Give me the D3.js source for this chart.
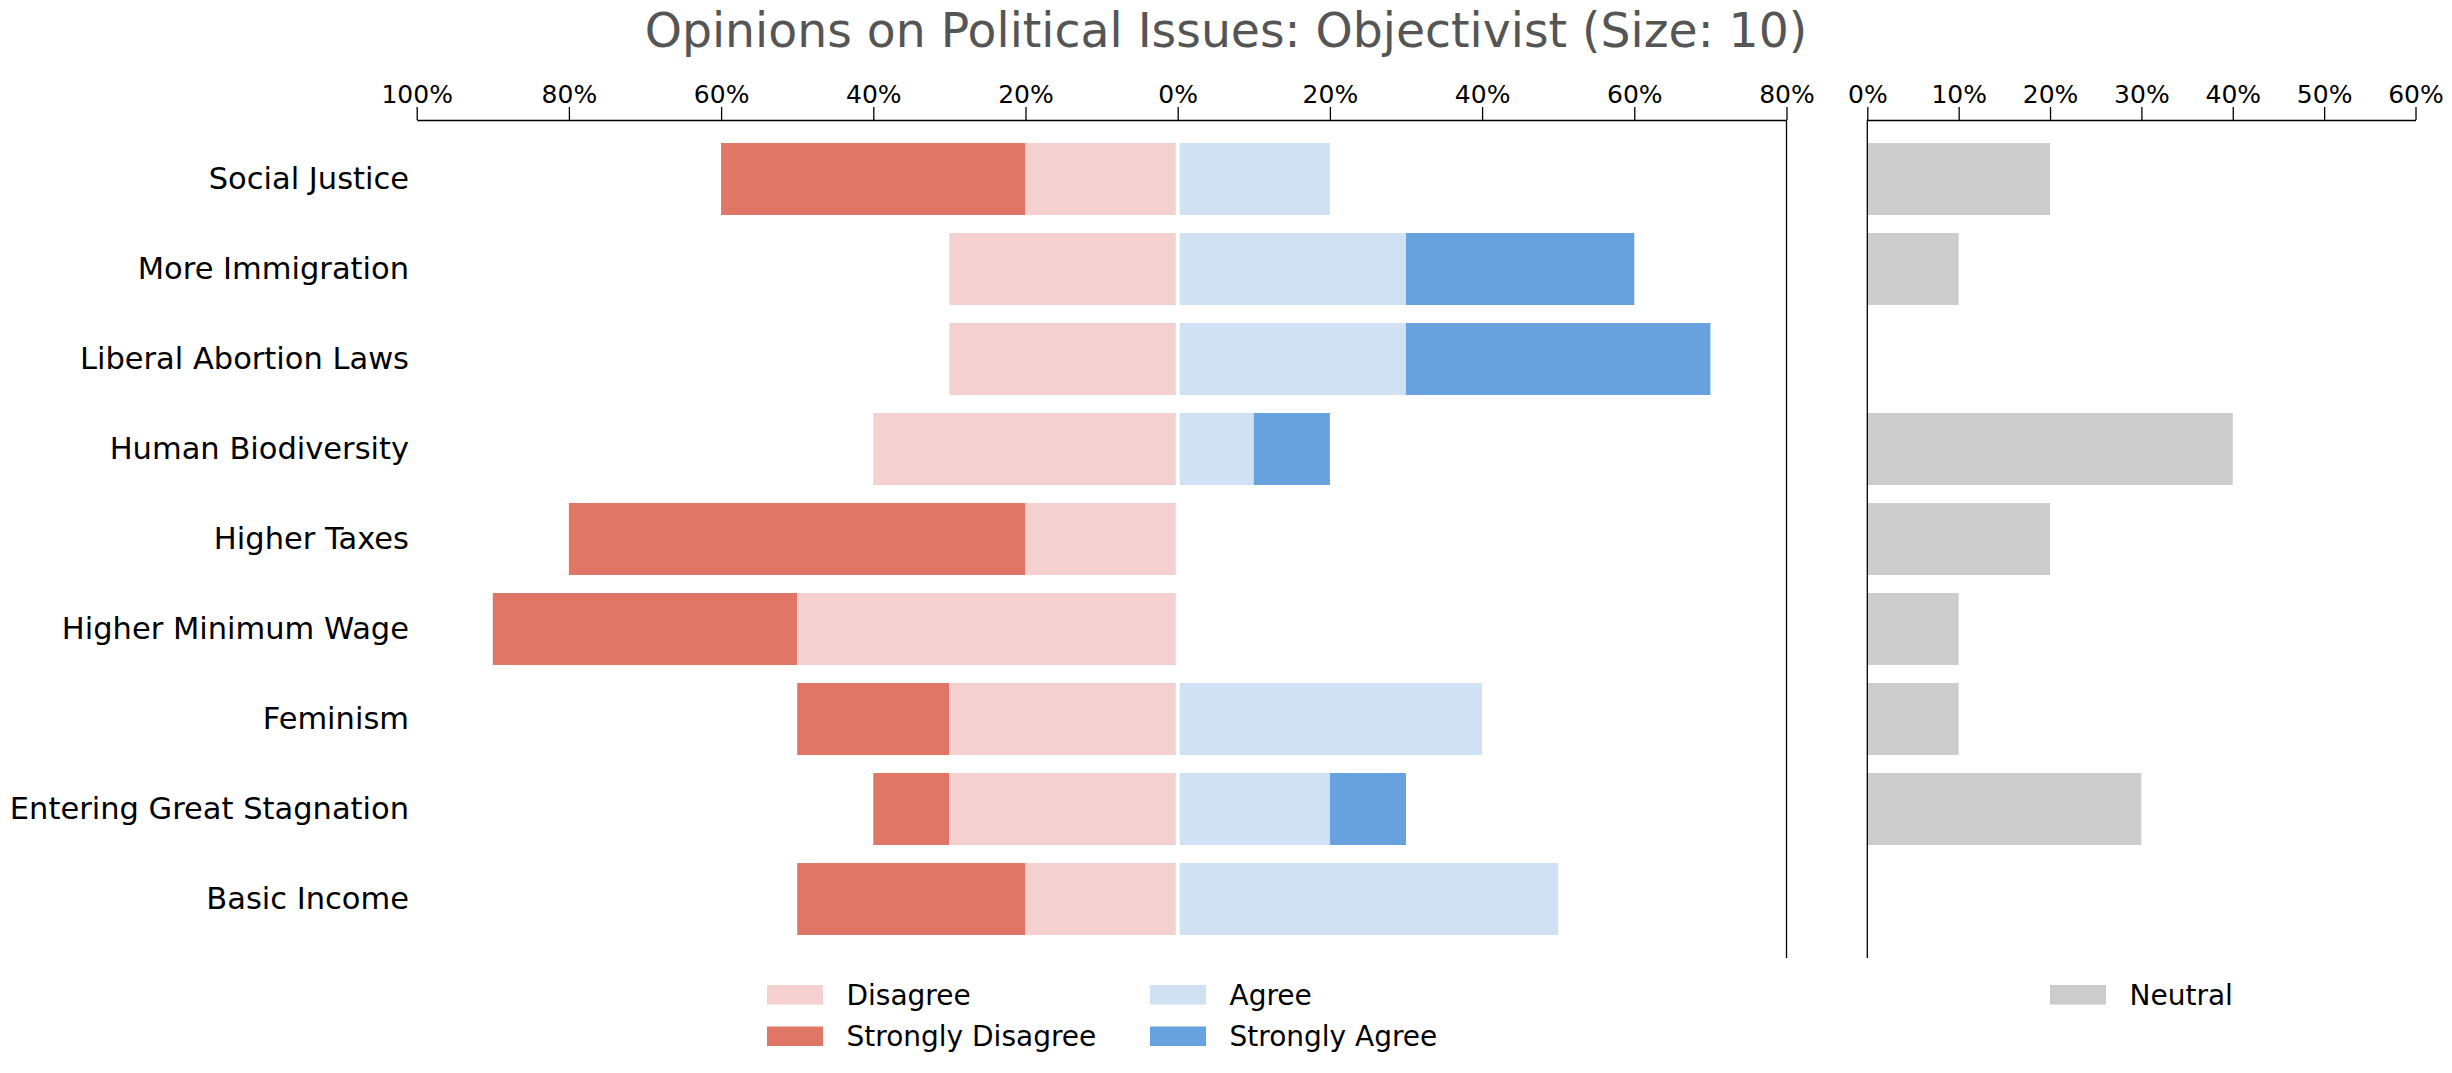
<!DOCTYPE html>
<html>
<head>
<meta charset="utf-8">
<script src="https://cdn.jsdelivr.net/npm/d3@7"></script>
<style>
  body { margin: 0; background: white; }
  text { font-family: "DejaVu Sans", sans-serif; }
</style>
</head>
<body>
<div id="chart"></div>
<script>
let width = 2452, height = 1073;

// data, percent of respondents (size 10)
let categories = ["Social Justice", "More Immigration", "Liberal Abortion Laws", "Human Biodiversity",
  "Higher Taxes", "Higher Minimum Wage", "Feminism", "Entering Great Stagnation", "Basic Income"];
let stronglyDisagree = [40, 0, 0, 0, 60, 40, 20, 10, 30];
let disagree = [20, 30, 30, 40, 20, 50, 30, 30, 20];
let agree = [20, 30, 30, 10, 0, 0, 40, 20, 50];
let stronglyAgree = [0, 30, 40, 10, 0, 0, 0, 10, 0];
let neutral = [20, 10, 0, 40, 20, 10, 10, 30, 0];

let leftTicks = [-100, -80, -60, -40, -20, 0, 20, 40, 60, 80];
let rightTicks = [0, 10, 20, 30, 40, 50, 60];

let colors = {
  sd: '#e07666',
  d: '#f4d0d0',
  a: '#d0e1f3',
  sa: '#67a2de',
  n: '#cccccc'
};

let plotTop = 120, plotBottom = 958;

let svg = d3.select('#chart')
  .append('svg')
  .attr('width', width)
  .attr('height', height)
  .style('background', 'white');

let xLeft = d3.scaleLinear().domain([-100, 80]).range([416.7, 1786.5]);
let xRight = d3.scaleLinear().domain([0, 60]).range([1867.3, 2415.5]);

let y = d3.scaleBand()
  .domain(categories)
  .range([134, 944])
  .paddingInner(0.2)
  .paddingOuter(0.1);

// title
svg.append('text')
  .text('Opinions on Political Issues: Objectivist (Size: 10)')
  .attr('x', width / 2)
  .attr('y', 47)
  .attr('text-anchor', 'middle')
  .style('font-size', '47.3px')
  .style('fill', '#555555');

// stacked diverging bars
let rows = categories.map((c, i) => ({
  cat: c, sd: stronglyDisagree[i], d: disagree[i], a: agree[i], sa: stronglyAgree[i], n: neutral[i]
}));

let segments = [];
rows.forEach(r => {
  segments.push({ cat: r.cat, x0: -(r.d + r.sd), x1: -r.d, key: 'sd' });
  segments.push({ cat: r.cat, x0: -r.d, x1: 0, key: 'd' });
  segments.push({ cat: r.cat, x0: 0, x1: r.a, key: 'a' });
  segments.push({ cat: r.cat, x0: r.a, x1: r.a + r.sa, key: 'sa' });
});

svg.append('g').selectAll('rect')
  .data(segments.filter(s => s.x1 > s.x0))
  .enter()
  .append('rect')
  .attr('x', d => xLeft(d.x0))
  .attr('y', d => y(d.cat))
  .attr('width', d => xLeft(d.x1) - xLeft(d.x0))
  .attr('height', y.bandwidth())
  .attr('fill', d => colors[d.key]);

// white separator at zero
svg.append('line')
  .attr('x1', xLeft(0)).attr('x2', xLeft(0))
  .attr('y1', y(categories[0]) - 2)
  .attr('y2', y(categories[categories.length - 1]) + y.bandwidth() + 2)
  .attr('stroke', 'white')
  .attr('stroke-width', 4);

// neutral bars
svg.append('g').selectAll('rect')
  .data(rows.filter(r => r.n > 0))
  .enter()
  .append('rect')
  .attr('x', xRight(0))
  .attr('y', d => y(d.cat))
  .attr('width', d => xRight(d.n) - xRight(0))
  .attr('height', y.bandwidth())
  .attr('fill', colors.n);

// axes on top
function styleAxis(g) {
  g.selectAll('path, line').attr('stroke', 'black').attr('stroke-width', 1.3);
  g.selectAll('text')
    .style('font-family', '"DejaVu Sans", sans-serif')
    .style('font-size', '25px')
    .attr('fill', 'black');
}

svg.append('g')
  .attr('transform', `translate(0, ${plotTop})`)
  .call(d3.axisTop(xLeft).tickValues(leftTicks).tickFormat(d => Math.abs(d) + '%')
    .tickSize(13).tickSizeOuter(0).tickPadding(4))
  .call(styleAxis);

svg.append('g')
  .attr('transform', `translate(0, ${plotTop})`)
  .call(d3.axisTop(xRight).tickValues(rightTicks).tickFormat(d => d + '%')
    .tickSize(13).tickSizeOuter(0).tickPadding(4))
  .call(styleAxis);

// spines
svg.append('line')
  .attr('x1', xLeft(80)).attr('x2', xLeft(80))
  .attr('y1', plotTop).attr('y2', plotBottom)
  .attr('stroke', 'black').attr('stroke-width', 1.3);

svg.append('line')
  .attr('x1', xRight(0)).attr('x2', xRight(0))
  .attr('y1', plotTop).attr('y2', plotBottom)
  .attr('stroke', 'black').attr('stroke-width', 1.3);

// category labels
svg.append('g').selectAll('text')
  .data(categories)
  .enter()
  .append('text')
  .text(d => d)
  .attr('x', 409)
  .attr('y', d => y(d) + y.bandwidth() / 2 + 9.5)
  .attr('text-anchor', 'end')
  .style('font-size', '30.5px')
  .style('fill', 'black');

// legends
let legendItems = [
  { label: 'Disagree', key: 'd', x: 767, row: 0 },
  { label: 'Strongly Disagree', key: 'sd', x: 767, row: 1 },
  { label: 'Agree', key: 'a', x: 1150, row: 0 },
  { label: 'Strongly Agree', key: 'sa', x: 1150, row: 1 },
  { label: 'Neutral', key: 'n', x: 2050, row: 0 }
];

let legend = svg.append('g').selectAll('g')
  .data(legendItems)
  .enter()
  .append('g')
  .attr('transform', d => `translate(${d.x}, ${985 + d.row * 41.5})`);

legend.append('rect')
  .attr('width', 56)
  .attr('height', 19.5)
  .attr('fill', d => colors[d.key]);

legend.append('text')
  .text(d => d.label)
  .attr('x', 79.5)
  .attr('y', 19.5)
  .style('font-size', '28px')
  .style('fill', 'black');
</script>
</body>
</html>
